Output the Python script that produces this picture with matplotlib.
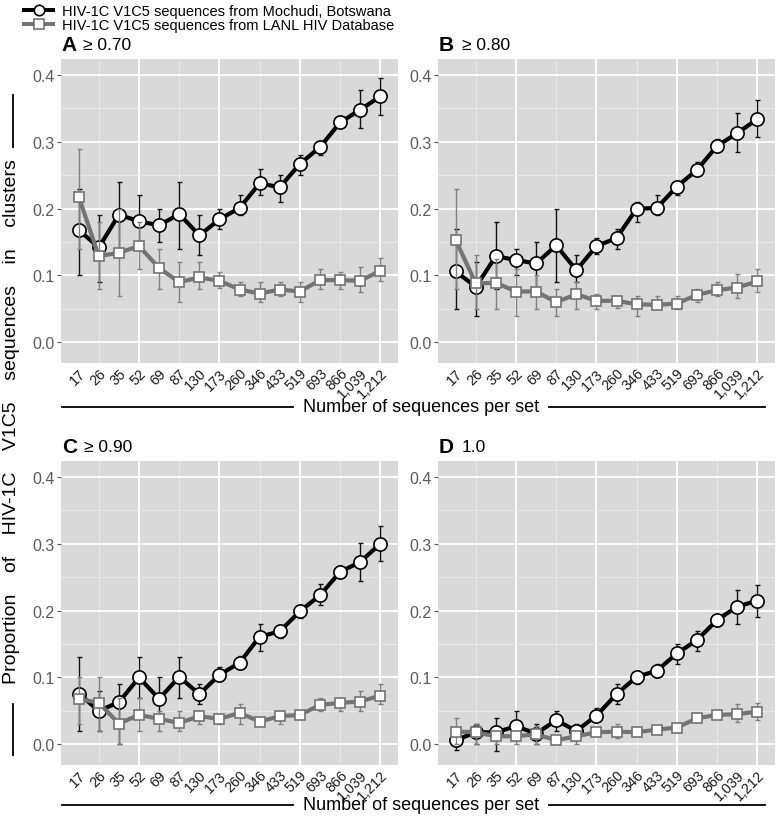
import numpy as np
import matplotlib
matplotlib.use('Agg')
import matplotlib.pyplot as plt
from matplotlib.lines import Line2D

plt.rcParams['font.family'] = ['Liberation Sans', 'DejaVu Sans']

# x categories (number of sequences per set)
set_sizes = ['17', '26', '35', '52', '69', '87', '130', '173', '260', '346',
             '433', '519', '693', '866', '1,039', '1,212']

# Panel A (>= 0.70)
moch_a = [0.168, 0.142, 0.191, 0.181, 0.175, 0.192, 0.160, 0.184, 0.201, 0.238, 0.232, 0.267, 0.292, 0.329, 0.348, 0.368]
moch_a_lo = [0.100, 0.090, 0.140, 0.140, 0.150, 0.140, 0.130, 0.170, 0.190, 0.220, 0.210, 0.250, 0.280, 0.322, 0.320, 0.340]
moch_a_hi = [0.230, 0.190, 0.240, 0.220, 0.200, 0.240, 0.190, 0.200, 0.220, 0.260, 0.250, 0.280, 0.300, 0.334, 0.378, 0.396]
lanl_a = [0.218, 0.129, 0.134, 0.144, 0.111, 0.090, 0.097, 0.092, 0.079, 0.073, 0.079, 0.076, 0.093, 0.093, 0.092, 0.107]
lanl_a_lo = [0.140, 0.080, 0.070, 0.110, 0.080, 0.060, 0.080, 0.081, 0.070, 0.060, 0.070, 0.060, 0.080, 0.080, 0.076, 0.091]
lanl_a_hi = [0.290, 0.180, 0.200, 0.180, 0.140, 0.120, 0.120, 0.105, 0.090, 0.090, 0.090, 0.090, 0.110, 0.105, 0.112, 0.126]

# Panel B (>= 0.80)
moch_b = [0.106, 0.083, 0.129, 0.123, 0.118, 0.145, 0.108, 0.144, 0.156, 0.200, 0.201, 0.233, 0.258, 0.294, 0.313, 0.334]
moch_b_lo = [0.050, 0.040, 0.080, 0.100, 0.080, 0.090, 0.090, 0.132, 0.140, 0.180, 0.190, 0.220, 0.250, 0.285, 0.285, 0.308]
moch_b_hi = [0.170, 0.120, 0.180, 0.140, 0.150, 0.200, 0.130, 0.156, 0.170, 0.210, 0.220, 0.242, 0.270, 0.304, 0.343, 0.362]
lanl_b = [0.153, 0.088, 0.089, 0.076, 0.076, 0.060, 0.072, 0.062, 0.062, 0.057, 0.056, 0.058, 0.071, 0.078, 0.082, 0.091]
lanl_b_lo = [0.080, 0.050, 0.050, 0.040, 0.050, 0.040, 0.050, 0.050, 0.052, 0.040, 0.050, 0.050, 0.060, 0.070, 0.066, 0.075]
lanl_b_hi = [0.230, 0.130, 0.125, 0.110, 0.100, 0.080, 0.090, 0.073, 0.070, 0.070, 0.070, 0.070, 0.080, 0.090, 0.102, 0.109]

# Panel C (>= 0.90)
moch_c = [0.076, 0.050, 0.063, 0.100, 0.068, 0.101, 0.075, 0.104, 0.122, 0.161, 0.169, 0.199, 0.223, 0.258, 0.273, 0.300]
moch_c_lo = [0.020, 0.020, 0.000, 0.070, 0.040, 0.070, 0.060, 0.095, 0.112, 0.140, 0.159, 0.189, 0.208, 0.249, 0.245, 0.274]
moch_c_hi = [0.130, 0.080, 0.090, 0.130, 0.100, 0.130, 0.090, 0.115, 0.132, 0.180, 0.179, 0.209, 0.240, 0.266, 0.301, 0.326]
lanl_c = [0.068, 0.062, 0.031, 0.044, 0.038, 0.032, 0.042, 0.038, 0.047, 0.034, 0.042, 0.044, 0.059, 0.062, 0.064, 0.073]
lanl_c_lo = [0.030, 0.020, 0.000, 0.020, 0.020, 0.020, 0.030, 0.030, 0.030, 0.031, 0.030, 0.041, 0.050, 0.050, 0.050, 0.060]
lanl_c_hi = [0.100, 0.100, 0.070, 0.070, 0.050, 0.050, 0.050, 0.045, 0.060, 0.038, 0.050, 0.047, 0.070, 0.070, 0.080, 0.090]

# Panel D (1.0)
moch_d = [0.006, 0.018, 0.018, 0.027, 0.016, 0.036, 0.020, 0.043, 0.075, 0.101, 0.110, 0.136, 0.156, 0.186, 0.206, 0.215]
moch_d_lo = [-0.008, 0.000, -0.010, 0.008, 0.000, 0.020, 0.008, 0.035, 0.060, 0.090, 0.100, 0.120, 0.140, 0.177, 0.180, 0.190]
moch_d_hi = [0.022, 0.030, 0.040, 0.050, 0.030, 0.050, 0.030, 0.055, 0.090, 0.110, 0.120, 0.150, 0.170, 0.193, 0.231, 0.238]
lanl_d = [0.019, 0.018, 0.012, 0.012, 0.015, 0.006, 0.012, 0.018, 0.019, 0.018, 0.022, 0.025, 0.039, 0.044, 0.045, 0.049]
lanl_d_lo = [0.000, 0.000, 0.000, 0.000, 0.000, 0.000, 0.000, 0.012, 0.010, 0.012, 0.018, 0.020, 0.033, 0.040, 0.033, 0.036]
lanl_d_hi = [0.040, 0.030, 0.020, 0.020, 0.028, 0.010, 0.020, 0.022, 0.030, 0.022, 0.025, 0.027, 0.042, 0.047, 0.060, 0.062]

panel_letters = ['A', 'B', 'C', 'D']
thresholds = ['\u2265 0.70', '\u2265 0.80', '\u2265 0.90', '1.0']

legend_labels = ['HIV-1C V1C5 sequences from Mochudi, Botswana',
                 'HIV-1C V1C5 sequences from LANL HIV Database']

GRAY = '#737373'
W, H = 777, 820
fig = plt.figure(figsize=(W / 100, H / 100), dpi=100)


def px_axes(left, top, width, height):
    return fig.add_axes([left / W, 1 - (top + height) / H, width / W, height / H])


def draw_panel(ax, letter, thr, m, m_lo, m_hi, l, l_lo, l_hi, thr_off):
    x = np.arange(len(set_sizes))
    m, m_lo, m_hi = np.array(m), np.array(m_lo), np.array(m_hi)
    l, l_lo, l_hi = np.array(l), np.array(l_lo), np.array(l_hi)

    ax.set_facecolor('#d9d9d9')
    for s in ax.spines.values():
        s.set_visible(False)

    ax.set_xlim(-0.88, 15.88)
    ax.set_ylim(-0.031, 0.424)
    ax.set_yticks([0.0, 0.1, 0.2, 0.3, 0.4])
    ax.set_yticklabels(['0.0', '0.1', '0.2', '0.3', '0.4'])
    ax.set_yticks([0.05, 0.15, 0.25, 0.35], minor=True)
    ax.grid(axis='y', which='major', color='white', lw=1.3, zorder=0)
    ax.grid(axis='y', which='minor', color='#ececec', lw=0.6, zorder=0)
    for xv in [3, 7, 11, 15]:
        ax.axvline(xv, color='white', lw=1.3, zorder=0)
    for xv in [1, 5, 9, 13]:
        ax.axvline(xv, color='#ececec', lw=0.6, zorder=0)
    ax.set_axisbelow(True)

    ax.tick_params(axis='y', which='major', length=3, width=0.8, color='#555555',
                   labelsize=11.5, labelcolor='#5a5a5a', pad=1.5)
    ax.tick_params(axis='y', which='minor', length=0)
    ax.set_xticks(x)
    ax.set_xticklabels(set_sizes, rotation=45, ha='right', rotation_mode='anchor')
    ax.tick_params(axis='x', length=0, labelsize=10.3, labelcolor='#1a1a1a', pad=2)

    # Mochudi (black)
    ax.errorbar(x, m, yerr=[m - m_lo, m_hi - m], fmt='none', ecolor='#111111',
                elinewidth=1.0, capsize=1.8, capthick=1.0, zorder=2)
    ax.plot(x, m, color='black', lw=3.0, marker='o', ms=9.5, mfc='white',
            mec='black', mew=1.2, zorder=3)
    # LANL (gray)
    ax.errorbar(x, l, yerr=[l - l_lo, l_hi - l], fmt='none', ecolor='#808080',
                elinewidth=1.0, capsize=1.8, capthick=1.0, zorder=4)
    ax.plot(x, l, color=GRAY, lw=3.0, marker='s', ms=7.8, mfc='white',
            mec=GRAY, mew=1.2, zorder=5)

    ax.text(0.002, 1.018, letter, transform=ax.transAxes, fontsize=15,
            fontweight='bold', ha='left', va='bottom')
    ax.text(thr_off, 1.023, thr, transform=ax.transAxes, fontsize=12.5,
            ha='left', va='bottom')


ax_a = px_axes(61, 60, 337, 304)
ax_b = px_axes(438, 60, 337, 304)
ax_c = px_axes(61, 462, 337, 304)
ax_d = px_axes(438, 462, 337, 304)

draw_panel(ax_a, panel_letters[0], thresholds[0], moch_a, moch_a_lo, moch_a_hi, lanl_a, lanl_a_lo, lanl_a_hi, 0.066)
draw_panel(ax_b, panel_letters[1], thresholds[1], moch_b, moch_b_lo, moch_b_hi, lanl_b, lanl_b_lo, lanl_b_hi, 0.071)
draw_panel(ax_c, panel_letters[2], thresholds[2], moch_c, moch_c_lo, moch_c_hi, lanl_c, lanl_c_lo, lanl_c_hi, 0.068)
draw_panel(ax_d, panel_letters[3], thresholds[3], moch_d, moch_d_lo, moch_d_hi, lanl_d, lanl_d_lo, lanl_d_hi, 0.071)


def fig_line(x0, y0, x1, y1):
    fig.add_artist(Line2D([x0 / W, x1 / W], [1 - y0 / H, 1 - y1 / H],
                          transform=fig.transFigure, color='black', lw=1.3))


# x axis titles with rules on both sides
for yy in [408, 806]:
    fig.text(421 / W, 1 - yy / H, 'Number of sequences per set', ha='center',
             va='center', fontsize=13)
    fig_line(62, yy, 293, yy)
    fig_line(549, yy, 765, yy)

# y axis title with rules
ylab = '    '.join(['Proportion', 'of', 'HIV-1C', 'V1C5', 'sequences', 'in', 'clusters'])
fig.text(12 / W, 1 - 422 / H, ylab, rotation=90, ha='center', va='center',
         fontsize=14.0)
fig_line(13, 96, 13, 148)
fig_line(13, 705, 13, 756)

# legend
handles = [
    Line2D([], [], color='black', lw=2.9, marker='o', ms=7.5, mfc='white',
           mec='black', mew=1.2),
    Line2D([], [], color=GRAY, lw=2.9, marker='s', ms=6.5, mfc='white',
           mec=GRAY, mew=1.2),
]
fig.legend(handles, legend_labels, loc='upper left', bbox_to_anchor=(0.018, 1.006),
           frameon=False, fontsize=10.5, handlelength=2.0, handletextpad=0.6,
           labelspacing=0.0, borderpad=0.2)

fig.savefig('out.png', dpi=100)
